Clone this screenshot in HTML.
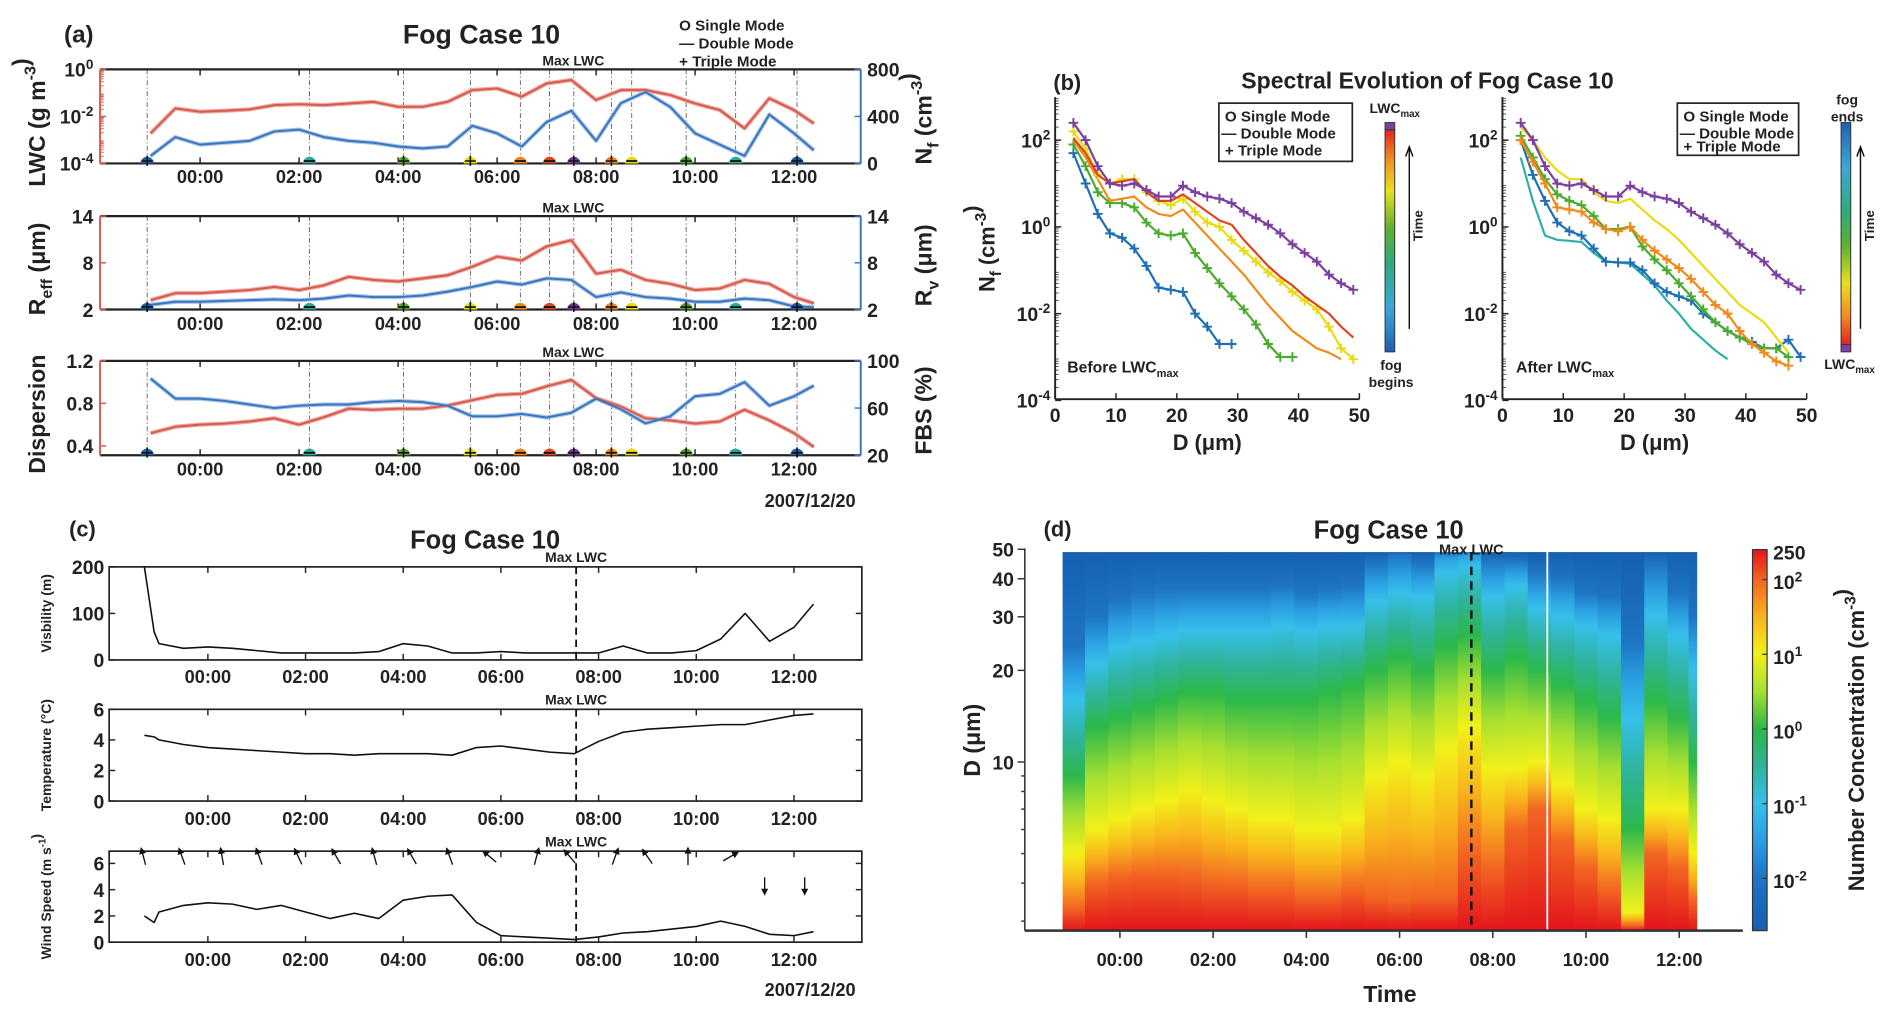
<!DOCTYPE html>
<html><head><meta charset="utf-8"><title>Fog Case 10</title>
<style>
html,body{margin:0;padding:0;background:#fff;}
svg{display:block;}
text{font-family:"Liberation Sans Narrow","Liberation Sans",sans-serif;font-weight:bold;fill:#222;}
.w{font-family:"Liberation Sans",sans-serif;}
</style></head>
<body>
<svg id="fig" xmlns="http://www.w3.org/2000/svg" width="1892" height="1018" viewBox="0 0 1560 839" preserveAspectRatio="none">
<defs id="defs"></defs>
</svg>
<script>
// ===== Panel (a) data =====
const aTimes = [-1.0,-0.5,0,0.5,1,1.5,2,2.5,3,3.5,4,4.5,5,5.5,6,6.5,7,7.5,8,8.5,9,9.5,10,10.5,11,11.5,12,12.4];
const lwcLog = [-2.72,-1.66,-1.80,-1.76,-1.70,-1.52,-1.48,-1.52,-1.45,-1.38,-1.59,-1.59,-1.38,-0.88,-0.81,-1.16,-0.60,-0.45,-1.30,-0.88,-0.88,-1.09,-1.45,-1.73,-2.51,-1.23,-1.73,-2.30];
const nfVals = [64,224,160,176,192,272,288,224,192,176,144,128,144,320,256,144,352,448,192,512,608,480,256,160,64,416,256,112];
const reffVals = [3.2,4.1,4.1,4.3,4.5,4.9,4.5,5.1,6.2,5.8,5.6,6.0,6.4,7.5,8.8,8.3,10.1,10.9,6.6,7.1,5.8,5.3,4.5,4.7,5.8,5.3,3.6,2.8];
const rvVals = [2.6,3.0,3.0,3.1,3.2,3.3,3.2,3.4,3.8,3.6,3.6,3.8,4.3,4.9,5.6,5.2,6.0,5.8,3.6,4.2,3.6,3.4,3.0,3.0,3.4,3.2,2.4,2.3];
const dispVals = [0.52,0.58,0.60,0.61,0.63,0.66,0.60,0.67,0.75,0.74,0.75,0.75,0.78,0.83,0.88,0.89,0.96,1.02,0.85,0.77,0.66,0.64,0.61,0.63,0.74,0.64,0.52,0.39];
const fbsVals = [85,68,68,66,63,60,62,63,63,65,66,65,62,53,53,55,52,56,68,59,47,53,70,72,82,62,70,79];
const markerTimes = [-1.07,2.21,4.11,5.46,6.47,7.06,7.55,8.31,8.72,9.82,10.82,12.06];
const markerModes = ['+','-','+','+','-','-','+','+','-','+','-','+'];
const markerColors = ['#1f5fa8','#2aa89a','#5aa82e','#e8dc10','#f0841a','#e0441f','#6f3a9a','#f0841a','#e8dc10','#4ea32e','#2aa89a','#1f5fa8'];
const maxLwcTime = 7.54;
// ===== Panel (b) data =====
const dBins = [3,5,7,9,11,13,15,17,19,21,23,25,27,29,31,33,35,37,39,41,43,45,47,49];
const bLeftBlue = [1.7,1.0,0.3,-0.15,-0.25,-0.5,-0.9,-1.4,-1.45,-1.5,-2.0,-2.3,-2.7,-2.7];
const bLeftGreen = [1.9,1.4,0.8,0.55,0.55,0.45,0.1,-0.15,-0.2,-0.15,-0.6,-0.95,-1.3,-1.6,-1.9,-2.25,-2.7,-3.0,-3.0];
const bLeftOrange = [2.0,1.6,1.1,0.6,0.65,0.7,0.45,0.3,0.25,0.4,0.1,-0.2,-0.5,-0.8,-1.1,-1.45,-1.8,-2.1,-2.4,-2.6,-2.8,-2.9,-3.05];
const bLeftYellow = [2.2,1.8,1.2,1.0,1.1,1.1,0.8,0.6,0.5,0.65,0.35,0.1,0.0,-0.3,-0.55,-0.8,-1.05,-1.25,-1.5,-1.7,-1.9,-2.3,-2.8,-3.05];
const bLeftRed = [2.05,1.7,1.2,1.0,1.05,1.1,0.8,0.6,0.6,0.75,0.55,0.35,0.15,0.05,-0.3,-0.6,-0.9,-1.15,-1.35,-1.6,-1.8,-2.0,-2.3,-2.55];
const bLeftPurple = [2.4,2.0,1.4,1.0,0.95,1.0,0.85,0.7,0.7,0.95,0.8,0.7,0.65,0.55,0.35,0.2,0.05,-0.15,-0.4,-0.6,-0.8,-1.1,-1.3,-1.45];
const bRightPurple = [2.4,2.0,1.4,1.0,0.95,1.0,0.85,0.7,0.7,0.95,0.8,0.7,0.65,0.55,0.35,0.2,0.05,-0.15,-0.4,-0.6,-0.8,-1.1,-1.3,-1.45];
const bRightYellow = [2.3,2.0,1.6,1.3,1.1,1.1,0.8,0.6,0.55,0.65,0.4,0.15,-0.05,-0.3,-0.6,-0.9,-1.2,-1.5,-1.8,-2.0,-2.2,-2.55,-2.9];
const bRightOrange = [2.0,1.5,1.0,0.45,0.4,0.35,0.1,-0.05,-0.1,0.0,-0.3,-0.55,-0.75,-0.95,-1.2,-1.5,-1.8,-2.0,-2.4,-2.7,-2.9,-3.1,-3.2];
const bRightGreen = [2.1,1.6,1.1,0.75,0.6,0.5,0.25,-0.05,-0.05,0.0,-0.45,-0.75,-1.0,-1.3,-1.6,-1.9,-2.2,-2.4,-2.55,-2.7,-2.8,-2.8,-3.0];
const bRightBlue = [2.0,1.2,0.6,0.1,-0.1,-0.2,-0.5,-0.8,-0.82,-0.82,-1.0,-1.3,-1.5,-1.6,-1.7,-2.0,-2.2,-2.4,-2.55,-2.65,-2.8,-2.8,-2.6,-3.0];
const bRightTeal = [1.6,0.6,-0.2,-0.3,-0.32,-0.35,-0.6,-0.8,-0.82,-0.85,-1.1,-1.35,-1.7,-2.0,-2.35,-2.6,-2.85,-3.05];
// ===== Panel (c) data =====
const cTimes = [-1.3,-1.1,-1.0,-0.5,0,0.5,1,1.5,2,2.5,3,3.5,4,4.5,5,5.5,6,6.5,7,7.5,8,8.5,9,9.5,10,10.5,11,11.5,12,12.4];
const visVals = [200,60,35,25,28,25,20,15,15,15,15,18,35,30,15,15,18,15,15,15,15,30,15,15,20,45,100,40,70,120];
const tempVals = [4.3,4.2,4.0,3.7,3.5,3.4,3.3,3.2,3.1,3.1,3.0,3.1,3.1,3.1,3.0,3.5,3.6,3.4,3.2,3.1,3.9,4.5,4.7,4.8,4.9,5.0,5.0,5.3,5.6,5.7];
const windVals = [2.0,1.5,2.3,2.8,3.0,2.9,2.5,2.8,2.3,1.8,2.2,1.8,3.2,3.5,3.6,1.5,0.5,0.4,0.3,0.2,0.4,0.7,0.8,1.0,1.2,1.6,1.2,0.6,0.5,0.8];
const arrowTimes = [-1.32,-0.53,0.29,1.05,1.85,2.63,3.41,4.18,4.95,5.77,6.73,7.41,8.34,9.0,9.83,10.7,11.4,12.22];
const arrowDirs = [-15,-20,-10,-20,-25,-30,-15,-30,-20,-50,15,-40,20,-35,0,60,180,180];
// ===== Panel (d) data =====
const heatTimes = [-1.0,-0.5,0,0.5,1,1.5,2,2.5,3,3.5,4,4.5,5,5.5,6,6.5,7,7.5,8,8.5,9,9.5,10,10.5,11,11.5,12,12.4];
const d100 = [3.3,4.0,4.2,4.3,4.3,4.2,4.0,4.0,3.8,3.8,3.6,3.6,3.8,3.6,3.5,3.6,3.6,5.0,4.5,6.0,7.0,5.5,4.5,3.8,2.9,5.0,4.5,3.5];
const d10 = [5.0,6.0,6.5,7.0,7.5,8.0,7.5,7.0,6.5,6.5,6.0,6.0,6.5,9.0,10,9.0,11,13,9.5,9.5,10,8.5,7.0,6.5,3.2,7.0,7.0,5.0];
const d1 = [9,13,14,15,16,17,17,16,16,16,16,17,18,20,22,20,24,26,20,22,20,18,16,14,6,16,14,10];
const d01 = [16,21,24,25,26,27,27,27,27,28,27,28,28,34,36,35,42,44,35,38,32,30,28,26,14,30,26,20];
const d001 = [24,30,34,36,37,37,37,37,37,38,36,37,38,45,48,45,52,52,46,46,42,40,36,35,25,45,36,30];
const cbTicks = [2,1,0,-1,-2];

const NS='http://www.w3.org/2000/svg';
const fig=document.getElementById('fig');
const defs=document.getElementById('defs');
function add(parent, tag, attrs, name, inter){
  const el=document.createElementNS(NS,tag);
  for(const k in attrs) el.setAttribute(k,attrs[k]);
  
  
  parent.appendChild(el);
  return el;
}
function grp(name){ return add(fig,'g',{},name); }
function txt(p,x,y,s,name,o){
  o=o||{};
  const t=add(p,'text',{x:x,y:y,'font-size':o.fs||13,'text-anchor':o.anchor||'middle',fill:o.fill||'#222'},name);
  if(o.cls) t.setAttribute('class',o.cls);
  if(o.rot!==undefined) t.setAttribute('transform','rotate('+o.rot+' '+x+' '+y+')');
  if(Array.isArray(s)){
    s.forEach(part=>{
      const ts=document.createElementNS(NS,'tspan');
      ts.textContent=part[0];
      if(part[1]==='sup'){ts.setAttribute('dy',-(o.fs||13)*0.4);ts.setAttribute('font-size',(o.fs||13)*0.7);}
      if(part[1]==='sub'){ts.setAttribute('dy',(o.fs||13)*0.3);ts.setAttribute('font-size',(o.fs||13)*0.7);}
      if(part[1]==='down'){ts.setAttribute('dy',-(o.fs||13)*0.3);}
      t.appendChild(ts);
    });
  } else t.textContent=s;
  return t;
}
function pathFrom(xs,ys,fx,fy){
  let d='';
  for(let i=0;i<ys.length;i++) d+=(i?'L':'M')+fx(xs[i]).toFixed(2)+','+fy(ys[i]).toFixed(2);
  return d;
}
const hourLabels=['00:00','02:00','04:00','06:00','08:00','10:00','12:00'];
const hourTicks=[0,2,4,6,8,10,12];

// ================= PANEL A =================
(function(){
  const g=grp('panel-a');
  const xA=h=>165+40.81*h;
  const L=82.5,R=709.7;
  txt(g,65,35,'(a)','panel-a-label',{fs:20,cls:'w'});
  txt(g,397,36,'Fog Case 10','panel-a-title',{fs:22,cls:'w'});
  const lg=add(g,'g',{},'mode-legend');
  txt(lg,560,25,'O Single Mode','legend-single-mode',{fs:12.5,anchor:'start'});
  txt(lg,560,40,'— Double Mode','legend-double-mode',{fs:12.5,anchor:'start'});
  txt(lg,560,55,'+ Triple Mode','legend-triple-mode',{fs:12.5,anchor:'start'});
  const red='#d65a50', blue='#3a74bd';
  const plots=[
    {top:57.2,bot:134.7,name:'lwc-nf',lab:151,
     lser:lwcLog, ly:l=>57.2-l*19.375, rser:nfVals, ry:v=>134.7-v*77.5/800,
     lt:[[0,[['10'],['0','sup']]],[-2,[['10'],['-2','sup']]],[-4,[['10'],['-4','sup']]]],
     rt:[0,400,800],
     llab:[['LWC (g m'],['-3','sup'],[')','down']], rlab:[['N'],['f','sub'],[' (cm','down'],['-3','sup'],[')','down']]},
    {top:178.1,bot:255.1,name:'reff-rv',lab:272,
     lser:reffVals, ly:v=>255.1-(v-2)*77/12, rser:rvVals, ry:v=>255.1-(v-2)*77/12,
     lt:[[2,'2'],[8,'8'],[14,'14']], rt:[2,8,14],
     llab:[['R'],['eff','sub'],[' (μm)','down']], rlab:[['R'],['v','sub'],[' (μm)','down']]},
    {top:297.4,bot:375.2,name:'dispersion-fbs',lab:392,
     lser:dispVals, ly:v=>297.4+(1.2-v)*70.1/0.8, rser:fbsVals, ry:v=>375.2-(v-20)*77.8/80,
     lt:[[0.4,'0.4'],[0.8,'0.8'],[1.2,'1.2']], rt:[20,60,100],
     llab:'Dispersion', rlab:'FBS (%)'}
  ];
  plots.forEach((p,pi)=>{
    const pg=add(g,'g',{},'plot-'+p.name);
    markerTimes.forEach((t,i)=>{
      add(pg,'line',{x1:xA(t),x2:xA(t),y1:p.top,y2:p.bot,stroke:'#555','stroke-width':0.7,'stroke-dasharray':'4 2 1 2'},'event-line');
    });
    add(pg,'path',{d:pathFrom(aTimes,p.lser,xA,p.ly),fill:'none',stroke:'#f0a8a0','stroke-width':3.5,'stroke-linejoin':'round'},'left-series-raw');
    add(pg,'path',{d:pathFrom(aTimes,p.rser,xA,p.ry),fill:'none',stroke:'#a8c6ea','stroke-width':3.5,'stroke-linejoin':'round'},'right-series-raw');
    add(pg,'path',{d:pathFrom(aTimes,p.lser,xA,p.ly),fill:'none',stroke:red,'stroke-width':1.6,'stroke-linejoin':'round'},'left-series');
    add(pg,'path',{d:pathFrom(aTimes,p.rser,xA,p.ry),fill:'none',stroke:blue,'stroke-width':1.6,'stroke-linejoin':'round'},'right-series');
    add(pg,'line',{x1:L,x2:R,y1:p.top,y2:p.top,stroke:'#222','stroke-width':1.8},'frame-top');
    add(pg,'line',{x1:L,x2:R,y1:p.bot,y2:p.bot,stroke:'#222','stroke-width':1.8},'frame-bottom');
    add(pg,'line',{x1:L,x2:L,y1:p.top,y2:p.bot,stroke:red,'stroke-width':1.6},'left-axis');
    add(pg,'line',{x1:R,x2:R,y1:p.top,y2:p.bot,stroke:blue,'stroke-width':1.6},'right-axis');
    hourTicks.forEach((h,i)=>{
      add(pg,'line',{x1:xA(h),x2:xA(h),y1:p.bot,y2:p.bot-5,stroke:'#222','stroke-width':1.2},'x-tick');
      add(pg,'line',{x1:xA(h),x2:xA(h),y1:p.top,y2:p.top+5,stroke:'#222','stroke-width':1.2},'x-tick-top');
      txt(pg,xA(h),p.lab,hourLabels[i],'x-tick-label',{fs:15});
    });
    markerTimes.forEach((t,i)=>{
      const cx=xA(t), cy=p.bot;
      add(pg,'path',{d:'M'+(cx-5.5)+','+cy+' A5.5,5.5 0 0 1 '+(cx+5.5)+','+cy+' Z',fill:markerColors[i]},'mode-marker');
      if(markerModes[i]==='+'){
        add(pg,'path',{d:'M'+(cx-4.5)+','+(cy-2)+'H'+(cx+4.5)+'M'+cx+','+(cy-6.5)+'V'+(cy+2),stroke:'#111','stroke-width':1.3},'triple-mode-symbol');
      } else {
        add(pg,'line',{x1:cx-4.5,x2:cx+4.5,y1:cy-2,y2:cy-2,stroke:'#111','stroke-width':1.5},'double-mode-symbol');
      }
    });
    txt(pg,xA(maxLwcTime),p.top-3,'Max LWC','max-lwc-label',{fs:11.5});
    p.lt.forEach(tk=>{
      const y=p.ly(tk[0]);
      add(pg,'line',{x1:L,x2:L+5,y1:y,y2:y,stroke:red,'stroke-width':1.2},'left-y-tick');
      txt(pg,77,y+6,tk[1],'left-y-tick-label',{fs:16,anchor:'end',fill:red});
    });
    if(pi===0){
      for(let k=-4;k<0;k++){ for(let m=2;m<10;m++){ const y=p.ly(k+Math.log10(m));
        add(pg,'line',{x1:L,x2:L+3,y1:y,y2:y,stroke:red,'stroke-width':0.8},'left-minor-tick'); } }
    }
    p.rt.forEach(v=>{
      const y=p.ry(v);
      add(pg,'line',{x1:R,x2:R-5,y1:y,y2:y,stroke:blue,'stroke-width':1.2},'right-y-tick');
      txt(pg,715,y+6,String(v),'right-y-tick-label',{fs:16,anchor:'start',fill:blue});
    });
    const my=(p.top+p.bot)/2;
    txt(pg,37,my+5,p.llab,'left-y-axis-title',{fs:19,fill:red,rot:-90,cls:'w'});
    txt(pg,768,my+2,p.rlab,'right-y-axis-title',{fs:19,fill:blue,rot:-90,cls:'w'});
  });
  txt(g,668,418,'2007/12/20','panel-a-date',{fs:15});
})();

// ================= PANEL B =================
(function(){
  const g=grp('panel-b');
  txt(g,880,74,'(b)','panel-b-label',{fs:18,cls:'w'});
  txt(g,1177,73,'Spectral Evolution of Fog Case 10','panel-b-title',{fs:19,cls:'w'});
  const yB=l=>187-35.75*l;
  const cols={blue:'#1f6fb6',teal:'#2bb0a8',green:'#4aac2e',yellow:'#e8dc10',orange:'#f08a1a',red:'#e0441f',purple:'#7b3fa0'};
  const subs=[
    {x0:870,name:'before',label:'Before LWC',lx:880,
     series:[[bLeftBlue,'blue','+'],[bLeftGreen,'green','+'],[bLeftOrange,'orange','-'],[bLeftYellow,'yellow','+'],[bLeftRed,'red','-'],[bLeftPurple,'purple','+']]},
    {x0:1238.8,name:'after',label:'After LWC',lx:1250,
     series:[[bRightTeal,'teal','-'],[bRightBlue,'blue','+'],[bRightGreen,'green','+'],[bRightOrange,'orange','+'],[bRightYellow,'yellow','-'],[bRightPurple,'purple','+']]}
  ];
  subs.forEach((s,si)=>{
    const sg=add(g,'g',{},'spectra-'+s.name);
    const xB=d=>s.x0+d*5.017;
    s.series.forEach(se=>{
      const vals=se[0];
      const ds=dBins.slice(0,vals.length);
      add(sg,'path',{d:pathFrom(ds,vals,xB,yB),fill:'none',stroke:cols[se[1]],'stroke-width':1.8,'stroke-linejoin':'round'},'spectrum-'+se[1]);
      if(se[2]==='+'){
        ds.forEach((d,i)=>{
          const cx=xB(d),cy=yB(vals[i]);
          add(sg,'path',{d:'M'+(cx-4)+','+cy+'H'+(cx+4)+'M'+cx+','+(cy-4)+'V'+(cy+4),stroke:cols[se[1]],'stroke-width':1.6},'spectrum-point');
        });
      }
    });
    add(sg,'line',{x1:s.x0,x2:s.x0,y1:80,y2:329,stroke:'#222','stroke-width':1.6},'y-axis');
    add(sg,'line',{x1:s.x0,x2:xB(50),y1:329,y2:329,stroke:'#222','stroke-width':1.6},'x-axis');
    [0,10,20,30,40,50].forEach(d=>{
      add(sg,'line',{x1:xB(d),x2:xB(d),y1:329,y2:324,stroke:'#222','stroke-width':1.2},'x-tick');
      txt(sg,xB(d),348,String(d),'x-tick-label',{fs:16});
    });
    [2,0,-2,-4].forEach(l=>{
      add(sg,'line',{x1:s.x0,x2:s.x0+5,y1:yB(l),y2:yB(l),stroke:'#222','stroke-width':1.2},'y-tick');
      txt(sg,s.x0-4,yB(l)+6,[['10'],[String(l),'sup']],'y-tick-label',{fs:16,anchor:'end'});
    });
    for(let k=-4;k<3;k++){ for(let m=2;m<10;m++){ const y=yB(k+Math.log10(m));
      add(sg,'line',{x1:s.x0,x2:s.x0+3,y1:y,y2:y,stroke:'#222','stroke-width':0.6},'y-minor-tick'); } }
    txt(sg,xB(25),371,'D (μm)','x-axis-title',{fs:18});
    txt(sg,s.lx,307,[[s.label],['max','sub']],'subplot-note',{fs:13,anchor:'start'});
    const bx=si===0?1005:1383, bw=si===0?110:100, bh=si===0?48:43;
    const lb=add(sg,'g',{},'mode-legend-box');
    add(lb,'rect',{x:bx,y:85,width:bw,height:bh,fill:'#fff',stroke:'#222','stroke-width':1.4},'legend-frame');
    txt(lb,bx+5,100,'O Single Mode','legend-single-mode',{fs:12.5,anchor:'start'});
    txt(lb,bx+2,114,'— Double Mode','legend-double-mode',{fs:12.5,anchor:'start'});
    txt(lb,bx+5,128-(si?3:0),'+ Triple Mode','legend-triple-mode',{fs:12.5,anchor:'start'});
  });
  const gl=add(defs,'linearGradient',{id:'tbarL',x1:0,y1:1,x2:0,y2:0},'time-gradient-left');
  const gr=add(defs,'linearGradient',{id:'tbarR',x1:0,y1:0,x2:0,y2:1},'time-gradient-right');
  [[0,'#1f5fb0'],[0.2,'#3aa8d8'],[0.4,'#2eaa7a'],[0.55,'#5cb030'],[0.72,'#e8e020'],[0.86,'#f09020'],[1,'#e02020']].forEach(st=>{
    add(gl,'stop',{offset:st[0],'stop-color':st[1]},'stop');
    add(gr,'stop',{offset:st[0],'stop-color':st[1]},'stop');
  });
  add(g,'rect',{x:1142,y:106,width:8,height:184,fill:'url(#tbarL)',stroke:'#333','stroke-width':0.8},'time-colorbar-left');
  add(g,'rect',{x:1142,y:101,width:8,height:6,fill:'#7b3fa0',stroke:'#333','stroke-width':0.8},'lwcmax-cap-left');
  add(g,'rect',{x:1518,y:101,width:8,height:184,fill:'url(#tbarR)',stroke:'#333','stroke-width':0.8},'time-colorbar-right');
  add(g,'rect',{x:1518,y:284,width:8,height:6,fill:'#7b3fa0',stroke:'#333','stroke-width':0.8},'lwcmax-cap-right');
  [[1162,'left'],[1534,'right']].forEach(a=>{
    add(g,'path',{d:'M'+a[0]+',271V122M'+(a[0]-3)+',129L'+a[0]+',121L'+(a[0]+3)+',129',fill:'none',stroke:'#111','stroke-width':1.2},'time-arrow-'+a[1]);
    txt(g,a[0]+11,186,'Time','time-label-'+a[1],{fs:11,rot:-90});
  });
  txt(g,1150,93,[['LWC'],['max','sub']],'colorbar-top-label-left',{fs:11.5});
  txt(g,1147,305,'fog','colorbar-bottom-label-left',{fs:11.5});
  txt(g,1147,319,'begins','colorbar-bottom-label-left-2',{fs:11.5});
  txt(g,1523,86,'fog','colorbar-top-label-right',{fs:11.5});
  txt(g,1523,100,'ends','colorbar-top-label-right-2',{fs:11.5});
  txt(g,1525,304,[['LWC'],['max','sub']],'colorbar-bottom-label-right',{fs:11.5});
  txt(g,820,205,[['N'],['f','sub'],[' (cm','down'],['-3','sup'],[')','down']],'y-axis-title',{fs:18,rot:-90,cls:'w'});
})();

// ================= PANEL C =================
(function(){
  const g=grp('panel-c');
  const xC=h=>171.4+40.27*h;
  const L=90,R=710.6;
  txt(g,68,442,'(c)','panel-c-label',{fs:18,cls:'w'});
  txt(g,400,452,'Fog Case 10','panel-c-title',{fs:21,cls:'w'});
  const plots=[
    {top:467.2,bot:543.9,name:'visibility',vals:visVals,y:v=>543.9-v*76.7/200,ticks:[0,100,200],lab:'Visbility (m)',ly:563},
    {top:584.6,bot:660.2,name:'temperature',vals:tempVals,y:v=>660.2-v*75.6/6,ticks:[0,2,4,6],lab:'Temperature (°C)',ly:680},
    {top:701.5,bot:776.5,name:'wind-speed',vals:windVals,y:v=>776.5-v*64.9/6,ticks:[0,2,4,6],lab:[['Wind Speed (m s'],['-1','sup'],[')','down']],ly:796}
  ];
  plots.forEach(p=>{
    const pg=add(g,'g',{},'plot-'+p.name);
    add(pg,'rect',{x:L,y:p.top,width:R-L,height:p.bot-p.top,fill:'none',stroke:'#222','stroke-width':1.4},'frame');
    add(pg,'path',{d:pathFrom(cTimes,p.vals,xC,p.y),fill:'none',stroke:'#111','stroke-width':1.3,'stroke-linejoin':'round'},p.name+'-line');
    hourTicks.forEach((h,i)=>{
      add(pg,'line',{x1:xC(h),x2:xC(h),y1:p.bot,y2:p.bot-5,stroke:'#222','stroke-width':1.2},'x-tick');
      add(pg,'line',{x1:xC(h),x2:xC(h),y1:p.top,y2:p.top+5,stroke:'#222','stroke-width':1.2},'x-tick-top');
      txt(pg,xC(h),p.ly,hourLabels[i],'x-tick-label',{fs:15});
    });
    p.ticks.forEach(v=>{
      add(pg,'line',{x1:L,x2:L+5,y1:p.y(v),y2:p.y(v),stroke:'#222','stroke-width':1.2},'y-tick');
      add(pg,'line',{x1:R,x2:R-5,y1:p.y(v),y2:p.y(v),stroke:'#222','stroke-width':1.2},'y-tick-right');
      txt(pg,86,p.y(v)+6,String(v),'y-tick-label',{fs:16,anchor:'end'});
    });
    add(pg,'line',{x1:xC(maxLwcTime),x2:xC(maxLwcTime),y1:p.top,y2:p.bot,stroke:'#111','stroke-width':1.5,'stroke-dasharray':'6 4'},'max-lwc-line');
    txt(pg,xC(maxLwcTime),p.top-4,'Max LWC','max-lwc-label',{fs:11.5});
    txt(pg,42,(p.top+p.bot)/2,p.lab,'y-axis-title',{fs:11.5,rot:-90,cls:'w'});
  });
  arrowTimes.forEach((t,i)=>{
    const down=Math.abs(arrowDirs[i])>90;
    const cx=xC(t), cy=down?730:706;
    const ag=add(g,'g',{transform:'translate('+cx+','+cy+') rotate('+arrowDirs[i]+')'},'wind-arrow');
    add(ag,'path',{d:'M0,7V-6M-2,-3L0,-7L2,-3Z',fill:'#111',stroke:'#111','stroke-width':1.1},'arrow-shape');
  });
  txt(g,668,821,'2007/12/20','panel-c-date',{fs:15});
})();

// ================= PANEL D =================
(function(){
  const g=grp('panel-d');
  const xD=h=>923.4+38.43*h;
  const yD=d=>628-(Math.log10(d)-1)*250.8;
  const top=455, bot=767;
  txt(g,872,442,'(d)','panel-d-label',{fs:18,cls:'w'});
  txt(g,1145,444,'Fog Case 10','panel-d-title',{fs:21,cls:'w'});
  const cmap=[[-2.7,'#1560b0'],[-2,'#1e74c4'],[-1.5,'#2a9ee0'],[-1,'#36bfea'],[-0.5,'#2fb39a'],[0,'#2cb84a'],[0.5,'#a6df30'],[1,'#f2f01a'],[1.5,'#f8b41c'],[2,'#f26522'],[2.4,'#e3141c']];
  const hg=add(g,'g',{},'heatmap');
  const tmin=-1.23,tmax=12.37;
  heatTimes.forEach((t,i)=>{
    const a=i===0?tmin:(heatTimes[i-1]+t)/2;
    const b=i===heatTimes.length-1?tmax:(t+heatTimes[i+1])/2;
    const gid='hc'+i;
    const lg=add(defs,'linearGradient',{id:gid,gradientUnits:'userSpaceOnUse',x1:0,y1:top,x2:0,y2:bot},'column-gradient');
    const thr=[[d001[i],-2],[d01[i],-1],[d1[i],0],[d10[i],1],[d100[i],2]];
    const stops=[[top,-2.6]];
    thr.forEach((th,k)=>{
      if(k>0){ const gm=Math.sqrt(thr[k-1][0]*th[0]); stops.push([yD(gm),th[1]-0.5]); }
      stops.push([yD(th[0]),th[1]]);
    });
    stops.push([bot,2.45]);
    stops.forEach(st=>{
      const off=Math.min(1,Math.max(0,(st[0]-top)/(bot-top)));
      let col=cmap[0][1];
      cmap.forEach(c=>{ if(st[1]>=c[0]-1e-6) col=c[1]; });
      add(lg,'stop',{offset:off.toFixed(4),'stop-color':col},'stop');
    });
    add(hg,'rect',{x:xD(a),y:top,width:xD(b)-xD(a)+0.6,height:bot-top,fill:'url(#'+gid+')'},'heat-column');
  });
  add(g,'line',{x1:xD(9.17),x2:xD(9.17),y1:top,y2:bot,stroke:'#fff','stroke-width':1.5},'data-gap');
  add(g,'line',{x1:xD(maxLwcTime),x2:xD(maxLwcTime),y1:top,y2:bot,stroke:'#111','stroke-width':2,'stroke-dasharray':'7 5'},'max-lwc-line');
  txt(g,xD(maxLwcTime),457,'Max LWC','max-lwc-label',{fs:12});
  add(g,'line',{x1:845,x2:845,y1:452,y2:bot,stroke:'#333','stroke-width':1.3},'y-axis');
  add(g,'line',{x1:845,x2:1437,y1:bot,y2:bot,stroke:'#333','stroke-width':2},'x-axis');
  hourTicks.forEach((h,i)=>{
    add(g,'line',{x1:xD(h),x2:xD(h),y1:bot,y2:bot+6,stroke:'#333','stroke-width':1.3},'x-tick');
    txt(g,xD(h),796,hourLabels[i],'x-tick-label',{fs:15});
  });
  [3,4,5,6,7,8,9,10,20,30,40,50].forEach(d=>{
    const major=[10,20,30,40,50].indexOf(d)>=0;
    add(g,'line',{x1:845,x2:major?839:842,y1:yD(d),y2:yD(d),stroke:'#333','stroke-width':1.2},'y-tick');
    if(major) txt(g,836,yD(d)+6,String(d),'y-tick-label',{fs:16,anchor:'end'});
  });
  txt(g,1146,826,'Time','x-axis-title',{fs:19});
  txt(g,808,610,'D (μm)','y-axis-title',{fs:19,rot:-90,cls:'w'});
  const cg=add(defs,'linearGradient',{id:'cbar',x1:0,y1:1,x2:0,y2:0},'colorbar-gradient');
  cmap.forEach(c=>add(cg,'stop',{offset:((c[0]+2.7)/5.1).toFixed(4),'stop-color':c[1]},'stop'));
  add(g,'rect',{x:1445,y:453,width:12,height:314,fill:'url(#cbar)',stroke:'#333','stroke-width':1},'colorbar');
  const cbY=l=>767-(l+2.7)*314/5.1;
  txt(g,1462,cbY(2.4)+8,'250','colorbar-label-250',{fs:16,anchor:'start'});
  cbTicks.forEach(l=>{
    add(g,'line',{x1:1457,x2:1453,y1:cbY(l),y2:cbY(l),stroke:'#333','stroke-width':1},'colorbar-tick');
    txt(g,1462,cbY(l)+8,[['10'],[String(l),'sup']],'colorbar-tick-label',{fs:16,anchor:'start'});
  });
  txt(g,1537,610,[['Number Concentration (cm'],['-3','sup'],[')','down']],'colorbar-title',{fs:18,rot:-90,cls:'w'});
})();
</script>
</body></html>
